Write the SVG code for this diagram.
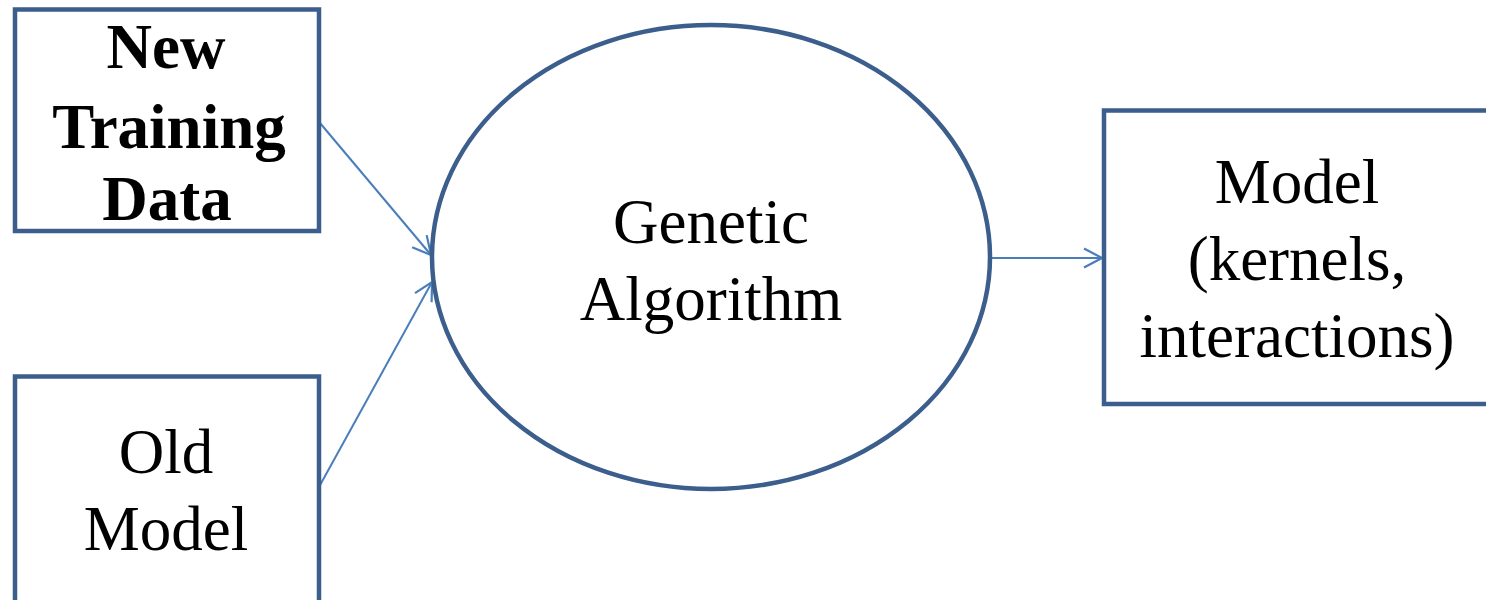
<svg xmlns="http://www.w3.org/2000/svg" width="1486" height="600" viewBox="0 0 1486 600">
  <style>
    .box { fill: #ffffff; stroke: #3b5e8c; stroke-width: 4.5; }
    .link { fill: none; stroke: #4a7ebb; stroke-width: 2; }
    .lbl { font-family: "Liberation Serif", "Times New Roman", serif; font-size: 63px; fill: #000000; text-anchor: middle; }
    .bold { font-weight: bold; font-size: 63px; }
  </style>
  <defs>
    <marker id="open-arrow" viewBox="0 0 20 22" refX="19" refY="11" markerWidth="20" markerHeight="22" markerUnits="userSpaceOnUse" orient="auto">
      <path d="M1,1.5 L19,11 L1,20.5" fill="none" stroke="#4a7ebb" stroke-width="2.2"/>
    </marker>
  </defs>
  <rect x="0" y="0" width="1486" height="600" fill="#ffffff"/>

  <g id="connectors">
    <line class="link" x1="320" y1="123" x2="431" y2="255" marker-end="url(#open-arrow)"/>
    <line class="link" x1="319" y1="487" x2="432" y2="282" marker-end="url(#open-arrow)"/>
    <line class="link" x1="991" y1="258" x2="1102" y2="258" marker-end="url(#open-arrow)"/>
  </g>

  <g id="new-training-data">
    <rect class="box" x="15" y="9.5" width="304" height="221.5"/>
    <text class="lbl bold" x="166" y="68">New</text>
    <text class="lbl bold" x="169" y="148">Training</text>
    <text class="lbl bold" x="167" y="220">Data</text>
  </g>

  <g id="old-model">
    <rect class="box" x="15" y="376.5" width="304" height="240"/>
    <text class="lbl" x="166" y="473">Old</text>
    <text class="lbl" x="166" y="550">Model</text>
  </g>

  <g id="genetic-algorithm">
    <ellipse class="box" cx="711" cy="257" rx="279" ry="232"/>
    <text class="lbl" x="711" y="243">Genetic</text>
    <text class="lbl" x="711" y="320">Algorithm</text>
  </g>

  <g id="model">
    <rect class="box" x="1104" y="110.5" width="400" height="293.5"/>
    <text class="lbl" x="1297" y="203">Model</text>
    <text class="lbl" x="1297" y="280">(kernels,</text>
    <text class="lbl" x="1297" y="357">interactions)</text>
  </g>
</svg>
